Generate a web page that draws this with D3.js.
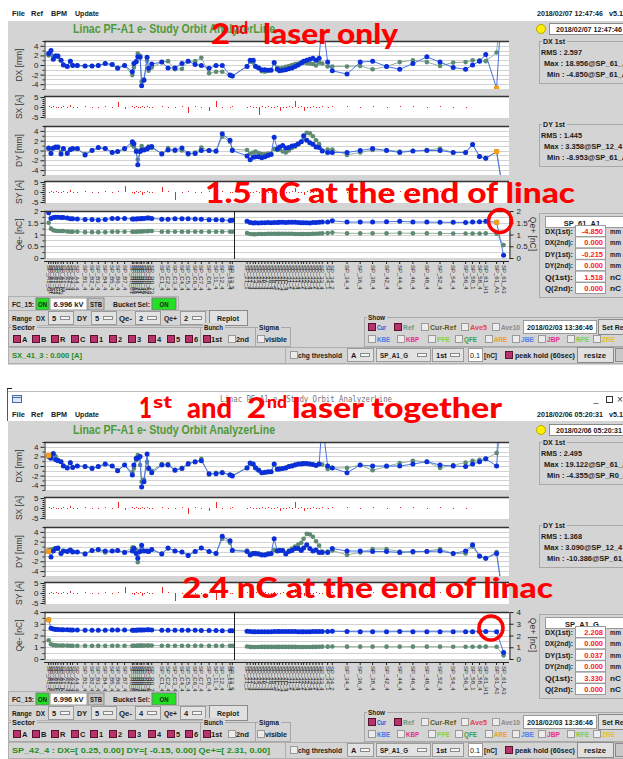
<!DOCTYPE html>
<html><head><meta charset="utf-8">
<script src="https://cdn.jsdelivr.net/npm/d3@7"></script>
<style>body{margin:0;background:#fff;}svg{display:block;}</style>
</head><body>
<script>
// ---------------- DATA ----------------
// BPM longitudinal positions (m) and names
const bpmS = [6,9,12,15,18,22,25,30,34,37,43,53,62,70,79,88,95,104,114,116,119,121,124,126,129,133,135,139,152,160,169,178,186,195,203,213,222,230,240,243,
262,266,270,273,277,281,285,289,293,297,301,304,308,312,316,320,324,328,332,335,339,343,347,351,355,359,366,372,391,408,424,442,459,476,494,511,528,544,553,562,570,584,593];
const bpmNames = ["SP_A1_G","SP_A1_S1","SP_A1_S2","SP_A1_C1","SP_A1_C2","SP_A1_C3","SP_A1_M","SP_A1_4","SP_A2_4","SP_A3_4","SP_A4_4",
"SP_B1_4","SP_B2_4","SP_B3_4","SP_B4_4","SP_B5_4","SP_B6_4","SP_B7_4",
"SP_R0_01","SP_R0_03","SP_R0_11","SP_R0_21","SP_R0_31","SP_R0_42","SP_R0_46","SP_R0_52","SP_R0_63","SP_R0_73",
"SP_C1_4","SP_C2_4","SP_C3_4","SP_C4_4","SP_C5_4","SP_C6_4","SP_C7_4","SP_C8_4","SP_11_4","SP_12_4","SP_13_4","SP_13_5",
"SP_21_1","SP_21_4","SP_22_4","SP_23_4","SP_24_4","SP_25_4","SP_26_4","SP_27_4","SP_28_4","SP_28_5","SP_2C_1","SP_2C_2","SP_2C_3","SP_2C_4",
"SP_31_1","SP_31_2","SP_31_3","SP_31_4","SP_32_1","SP_32_2","SP_32_3","SP_32_4","SP_33_1","SP_33_2","SP_33_3","SP_33_4","SP_34_1","SP_34_2",
"SP_34_4","SP_36_4","SP_38_4","SP_42_4","SP_44_4","SP_46_4","SP_48_4","SP_52_4","SP_54_4","SP_56_4","SP_58_1","SP_58_4","SP_61_H1","SP_61_A1","SP_61_A3"];
const sectorDividerS = 245;

// ---- top panel (2nd laser only) ----
const dxCurTop = [2.4,3.0,1.2,1.9,1.9,1.0,0.0,-0.3,0.8,-0.1, -0.1,-0.2,-0.2,-0.1,0.3,0.1,-0.7,-0.1,-1.4,0.3, 0.7,1.7,1.6,-4.3,-3.2,1.6,-0.7,0.2,0.6,-0.6, -0.6,0.3,0.8,0.1,-0.1,-0.7,-0.1,-0.1,-2.1,-2.3,
 -0.3,1.0,1.0,-0.3,-0.6,-1.0,-1.0,-1.1,-1.1,0.5, -0.9,-1.2,-1.1,-1.0,-0.8,-0.6,-0.3,0.0,0.4,0.8, 1.0,1.2,1.4,1.0,1.4,9.5,0.6,-1.2,-1.9,0.6, 0.8,-0.3,-0.9,0.3,1.7,0.6,-0.5,-0.9,0.0,0.8, 2.2,-4.85,18.956];
const dxRefTop = [2.0,2.2,1.8,1.9,1.7,1.0,0.1,-0.2,0.8,0.0, -0.1,-0.2,-0.2,-0.1,0.3,0.1,-0.6,-0.1,-2.1,-0.5, 0.8,2.4,1.9,-3.5,-3.0,0.9,-1.2,-0.5,0.6,0.8, -0.9,-0.8,0.8,0.8,1.5,-1.7,-1.4,-1.4,-2.2,-2.3,
 -0.2,0.7,0.5,-0.2,-0.6,-1.3,-1.4,-1.2,-1.0,0.3, -0.6,-0.7,-0.6,-0.4,-0.2,0.0,0.2,0.3,0.5,0.5, 0.4,0.3,0.2,-0.1,0.5,0.3,-0.3,-0.3,-0.3,-0.2, -0.9,-0.3,0.6,1.0,0.6,-0.2,0.5,0.6,1.0,1.0, 0.8,2.6,18.9];
const dyCurTop = [0.5,-0.6,0.5,0.7,0.7,-0.7,0.4,-0.6,0.2,0.4, 0.4,-0.9,0.0,0.6,0.4,-0.4,-0.2,0.4,1.8,1.4, -0.2,-2.9,-0.2,0.1,0.1,0.3,0.6,0.8,-0.7,0.1, 0.1,0.5,-0.6,-0.6,0.0,0.0,-0.1,3.4,2.1,0.0,
 -1.1,-1.9,-1.4,-1.3,-1.3,-1.5,-1.3,-1.0,-0.8,2.7, 0.3,0.7,1.0,0.5,0.6,0.9,1.0,1.4,1.8,3.0, 2.1,1.6,1.3,0.7,0.6,-0.1,-0.4,-0.4,-0.4,0.0, 0.4,0.0,-0.4,-0.1,0.0,0.0,-0.4,-0.4,1.2,-1.2, -1.6,-0.215,-8.953];
const dyRefTop = [0.3,0.0,0.4,0.6,0.5,-0.3,0.3,-0.4,0.1,0.3, 0.3,-0.7,0.1,0.5,0.4,-0.3,-0.2,0.3,1.1,0.8, 0.1,-1.9,0.0,0.9,0.2,0.4,0.8,0.5,-0.6,0.5, -0.1,0.0,-0.8,-0.4,0.6,0.0,-0.2,2.8,1.8,0.2,
 0.1,-0.6,-0.4,-0.2,-0.5,-0.7,-0.8,-0.6,-0.6,0.3, 0.1,0.2,-0.2,-0.4,0.0,0.5,0.8,1.2,1.8,2.4, 3.6,3.5,2.9,2.1,1.3,0.0,0.2,0.2,-0.9,-0.4, 0.1,0.1,-0.2,-0.1,0.1,0.4,-0.4,-0.4,1.2,-1.2, -1.6,-0.3,-9.0];
const qCurTop = [1.93,1.68,1.72,1.73,1.73,1.72,1.72,1.70,1.67,1.67, 1.66,1.64,1.64,1.62,1.64,1.68,1.68,1.68,1.66,1.66, 1.66,1.67,1.67,1.68,1.68,1.70,1.70,1.68,1.65,1.65, 1.67,1.67,1.67,1.66,1.65,1.63,1.63,1.62,1.60,1.61,
 1.56,1.51,1.49,1.50,1.49,1.50,1.50,1.51,1.50,1.51, 1.51,1.52,1.52,1.51,1.52,1.52,1.52,1.51,1.50,1.50, 1.50,1.49,1.51,1.51,1.52,1.53,1.53,1.58,1.53,1.53, 1.53,1.54,1.56,1.53,1.53,1.52,1.52,1.51,1.53,1.54, 1.56,1.518,0.12];
const qRefTop = [1.50,1.25,1.18,1.16,1.15,1.15,1.15,1.13,1.12,1.12, 1.12,1.10,1.10,1.10,1.10,1.12,1.12,1.12,1.12,1.12, 1.12,1.13,1.13,1.13,1.14,1.14,1.15,1.15,1.12,1.12, 1.12,1.12,1.12,1.12,1.12,1.12,1.12,1.12,1.12,1.12,
 1.06,1.02,1.01,1.01,1.02,1.02,1.02,1.03,1.03,1.03, 1.03,1.03,1.03,1.03,1.03,1.03,1.02,1.02,1.02,1.02, 1.02,1.02,1.03,1.03,1.04,1.05,1.06,1.08,1.05,1.05, 1.05,1.05,1.06,1.05,1.05,1.05,1.04,1.04,1.04,1.04, 1.05,1.03,0.55];
const sxTop = [0.3,-0.2,0.3,0.2,-0.3,0.2,0.3,-0.3,1.0,0.2, -0.3,0.3,-0.4,0.2,0.3,-0.3,2.5,-1.2,0.3,-0.2, 0.3,-0.3,0.2,0.3,-0.2,0.3,0.2,-0.3,0.3,-0.3, 0.2,0.4,-3.0,0.3,-0.2,-1.8,2.8,-0.3,0.2,0.3,
 -0.3,0.3,0.2,-0.3,-4.0,0.3,-0.2,0.3,0.2,-0.3, 0.3,-1.8,0.2,-0.3,0.3,0.2,2.8,-0.3,0.3,-2.2, 0.2,-0.3,0.3,0.2,-0.3,0.3,-0.2,0.3,0.3,-0.3, 0.3,-0.2,0.3,0.3,-0.2,0.3,0.2,-0.3,0,0, 0,0,0];
const syTop = [0.2,0.3,-0.2,0.3,0.2,-0.3,0.3,0.2,1.0,-0.3, 0.2,0.3,-0.3,0.2,0.3,-0.2,0.3,3.0,0.2,-1.0, 0.3,-0.2,0.3,-1.5,0.2,0.3,-0.3,0.2,2.5,0.3, -4.0,0.2,0.3,-0.3,0.2,0.3,-0.2,0.3,0.2,-0.3,
 0.3,0.2,-0.3,0.3,0.2,-0.3,0.3,0.2,-0.2,0.3, 0.2,-0.3,0.3,0.2,-0.3,0.3,2.0,0.2,-0.3,-1.5, 0.3,0.2,-0.3,0.3,0.2,-0.2,0.3,0.3,-0.3,0.2, 0.3,-0.2,0.3,0.2,-0.3,0.3,0.2,0,0,0, 0,0,0];

// ---- bottom panel (1st and 2nd laser together) ----
const dxCurBot = [2.208,1.6,2.6,1.3,1.1,0.9,0.0,-0.4,0.7,-0.3, 0.0,-0.1,-0.5,-0.1,0.4,0.0,-1.0,0.2,-1.9,0.2, 1.6,1.6,2.0,-4.355,-3.3,2.5,-0.5,-1.4,0.2,0.2, -0.9,-0.5,0.4,0.9,1.1,-1.6,-1.6,-1.4,-1.9,-2.1,
 -0.4,0.6,0.4,-0.4,-0.9,-1.4,-1.3,-1.2,-1.2,0.4, -0.7,-0.6,-0.5,-0.4,-0.1,0.0,0.2,0.4,0.4,0.5, 0.5,0.4,0.3,0.1,0.4,9.0,0.0,-0.4,-1.4,0.2, 0.0,0.0,0.0,0.4,0.9,0.2,0.0,-0.1,0.4,0.9, 1.5,0.0,19.122];
const dxRefBot = [1.8,1.9,2.3,2.0,1.3,0.9,0.1,-0.3,0.7,-0.2, 0.0,-0.1,-0.4,-0.1,0.4,0.0,-0.9,0.2,-1.3,-0.5, 1.2,2.3,0.2,-3.3,-2.8,0.9,-0.3,-1.0,0.4,0.4, -0.8,-0.4,0.6,0.8,1.5,-1.8,-1.4,-1.3,-1.8,-2.0,
 -0.3,0.5,0.3,-0.3,-0.8,-1.4,-1.4,-1.3,-1.2,0.3, -0.6,-0.6,-0.5,-0.3,-0.1,0.1,0.3,0.4,0.5,0.5, 0.5,0.4,0.3,0.2,0.4,0.3,-0.6,-0.4,-0.4,0.2, -0.9,-0.1,0.6,1.1,0.9,-0.4,0.2,0.7,1.1,1.3, 1.5,2.7,19.0];
const dyCurBot = [0.037,-1.1,0.1,0.6,0.7,-0.4,0.1,0.0,0.3,-0.1, -0.1,-0.5,0.2,0.4,0.1,0.1,0.2,-0.2,0.1,0.6, -0.4,-1.4,0.0,1.3,0.1,0.1,0.0,0.4,-0.5,0.7, 0.1,-0.1,-0.8,0.0,0.7,0.0,-0.4,3.09,2.2,0.2,
 0.0,-0.7,-0.4,-0.4,-0.5,-0.7,-0.7,-0.5,-0.4,2.6, 0.1,0.2,0.2,-0.5,0.0,0.2,0.6,0.6,0.2,0.7, 1.4,0.6,0.1,0.3,-0.2,-0.2,-0.2,0.6,0.1,0.1, 0.0,0.0,-0.2,0.0,0.0,0.1,-0.4,0.1,1.4,-0.9, -1.4,-0.4,-10.386];
const dyRefBot = [0.3,0.4,0.5,0.6,0.5,-0.3,0.1,0.1,0.2,0.0, -0.1,-0.4,0.2,0.3,-0.2,0.1,0.2,-0.1,0.8,0.8, 0.3,-2.2,0.0,0.6,0.1,0.1,0.0,0.4,-0.4,0.6, 0.1,-0.1,-0.8,0.0,0.7,0.0,-0.3,2.6,1.8,0.3,
 0.2,-0.4,-0.3,-0.3,-0.4,-0.6,-0.6,-0.4,-0.4,0.3, 0.2,0.3,0.2,-0.3,0.2,0.6,1.0,1.4,1.8,2.6, 3.6,3.5,3.0,2.1,1.2,0.0,0.0,0.2,-0.7,-0.2, 0.5,0.5,0.0,-0.2,0.1,0.5,-0.4,-0.4,1.0,-1.0, -1.4,-0.1,-10.0];
const qCurBot = [3.33,2.62,2.55,2.52,2.52,2.50,2.50,2.48,2.47,2.47, 2.46,2.45,2.45,2.44,2.45,2.46,2.46,2.46,2.45,2.45, 2.45,2.46,2.46,2.47,2.47,2.48,2.48,2.47,2.44,2.44, 2.44,2.45,2.45,2.44,2.43,2.42,2.42,2.41,2.40,2.40,
 2.36,2.33,2.32,2.32,2.31,2.32,2.32,2.32,2.32,2.33, 2.33,2.33,2.33,2.33,2.33,2.33,2.33,2.32,2.32,2.32, 2.32,2.32,2.33,2.33,2.33,2.34,2.34,2.36,2.33,2.32, 2.32,2.31,2.33,2.32,2.32,2.32,2.31,2.31,2.32,2.33, 2.34,2.32,0.55];
const qRefBot = [1.60,1.25,1.18,1.16,1.15,1.15,1.15,1.14,1.13,1.13, 1.12,1.12,1.12,1.12,1.12,1.13,1.13,1.13,1.13,1.13, 1.13,1.14,1.14,1.14,1.14,1.15,1.15,1.15,1.13,1.13, 1.13,1.13,1.13,1.13,1.13,1.12,1.12,1.12,1.12,1.12,
 1.06,1.03,1.02,1.02,1.02,1.03,1.03,1.03,1.03,1.03, 1.03,1.03,1.03,1.03,1.03,1.03,1.03,1.02,1.02,1.02, 1.02,1.02,1.03,1.03,1.04,1.05,1.05,1.07,1.05,1.05, 1.05,1.05,1.05,1.05,1.05,1.05,1.04,1.04,1.04,1.04, 1.05,1.04,0.30];
const sxBot = [0.3,-0.2,0.3,0.2,-0.3,0.2,0.3,-0.3,1.0,0.2, -0.3,0.3,-0.4,0.2,0.3,-0.3,3.0,-1.0,0.3,-0.2, 0.3,-0.3,0.2,0.3,-0.2,0.3,0.2,-0.3,0.3,-0.3, 0.2,0.4,-3.0,0.3,-0.2,-1.5,3.0,-0.3,0.2,0.3,
 -0.3,0.3,0.2,-0.3,-0.4,0.3,-0.2,0.3,0.2,-0.3, 0.3,-1.5,0.2,-0.3,0.3,0.2,3.0,-0.3,0.3,-1.6, 0.2,-0.3,0.3,0.2,-0.3,0.3,-0.2,0.3,0.3,-0.3, 0.3,-0.2,0.3,0.3,-0.2,0.3,0.2,-0.3,0,0, 0,0,0];
const syBot = [0.2,0.3,-0.2,0.3,0.2,-0.3,0.3,0.2,1.0,-0.3, 0.2,0.3,-0.3,0.2,0.3,-0.2,0.3,3.0,0.2,-1.0, 0.3,-0.2,0.3,-1.5,0.2,0.3,-0.3,0.2,3.0,0.3, -4.0,0.2,0.3,-0.3,0.2,0.3,-3.5,0.3,0.2,-0.3,
 0.3,0.2,-0.3,0.3,0.2,-0.3,0.3,0.2,-0.2,0.3, 0.2,-0.3,0.3,0.2,-0.3,0.3,2.0,0.2,-0.3,-1.5, 0.3,0.2,-0.3,0.3,0.2,-0.2,0.3,0.3,-0.3,0.2, 0.3,-0.2,0.3,0.2,-0.3,0.3,0.2,0,0,0, 0,0,0];

// tick labels
const dTicks = [-4,-2,0,2,4];
const sTicks = [-5,0,5];
const qTicksTop = [0,0.5,1,1.5,2];
const qTicksBot = [0,1,2,3,4];

// texts
const topStatsDX = ["RMS : 2.597","Max : 18.956@SP_61_A3","Min : -4.850@SP_61_A1"];
const topStatsDY = ["RMS : 1.445","Max : 3.358@SP_12_4","Min : -8.953@SP_61_A3"];
const botStatsDX = ["RMS : 2.495","Max : 19.122@SP_61_A3","Min : -4.355@SP_R0_42"];
const botStatsDY = ["RMS : 1.368","Max : 3.090@SP_12_4","Min : -10.386@SP_61_A3"];
const selLabels = ["DX(1st):","DX(2nd):","DY(1st):","DY(2nd):","Q(1st):","Q(2nd):"];
const selUnits = ["mm","mm","mm","mm","nC","nC"];
const selTop = ["-4.850","0.000","-0.215","0.000","1.518","0.000"];
const selBot = ["2.208","0.000","0.037","0.000","3.330","0.000"];
const sectors = ["A","B","R","C","1","2","3","4","5","6"];
const showRow1 = [["Cur","#2a52e0",true],["Ref","#6a9a82",true],["Cur-Ref","#5a5a20",false],["Ave5","#e04848",false],["Ave10","#8a8a8a",false]];
const showRow2 = [["KBE","#4a78e8"],["KBP","#e0308a"],["PFE","#8cd040"],["QFE","#3aa04a"],["ARE","#f0a020"],["JBE","#5a7af0"],["JBP","#e03088"],["RFE","#7ad040"],["ZRE","#e8c020"]];

// ---------------- DRAW ----------------
const W=623,H=759, BG="#d4d4d4";
const FONT='"Liberation Sans", Arial, sans-serif';
const svg=d3.select("body").append("svg").attr("width",W).attr("height",H).attr("font-family",FONT);
const xs=d3.scaleLinear().domain([0,600]).range([44,509]);
const defs=svg.append("defs");

function T(g,x,y,s,o={}){
  const t=g.append("text").attr("x",x).attr("y",y).text(s)
    .attr("font-size",o.size||7.5).attr("font-weight",o.weight||"bold")
    .attr("fill",o.fill||"#1a1a1a").attr("text-anchor",o.anchor||"start");
  if(o.len) t.attr("textLength",o.len).attr("lengthAdjust","spacingAndGlyphs");
  if(o.family) t.attr("font-family",o.family);
  if(o.rot) t.attr("transform",`rotate(${o.rot},${x},${y})`);
  return t;
}
function R(g,x,y,w,h,fill,stroke,sw){
  return g.append("rect").attr("x",x).attr("y",y).attr("width",w).attr("height",h)
    .attr("fill",fill||"none").attr("stroke",stroke||"none").attr("stroke-width",sw||1);
}
function styleAxis(a){
  a.select(".domain").attr("stroke","#222");
  a.selectAll(".tick line").attr("stroke","#222");
  a.selectAll("text").attr("font-size",8).attr("fill","#222").attr("font-family",FONT);
}
let clipN=0;
function frame(g,y0,y1,label){
  R(g,44,y0,465,y1-y0,"#fff");
  const id="clip"+(clipN++);
  defs.append("clipPath").attr("id",id).append("rect").attr("x",44).attr("y",y0).attr("width",465).attr("height",y1-y0);
  T(g,22,(y0+y1)/2,label,{size:8.5,weight:"normal",fill:"#333",anchor:"middle",rot:-90});
  return id;
}
function topLine(g,y0){ g.append("line").attr("x1",44).attr("x2",509).attr("y1",y0+0.5).attr("y2",y0+0.5).attr("stroke","#333").attr("stroke-width",1.6); }
function leftAxis(g,y,ticks,minor){
  const a=g.append("g").attr("transform","translate(44.5,0)").call(d3.axisLeft(y).tickValues(ticks).tickSize(4).tickSizeOuter(0).tickPadding(2).tickFormat(d=>String(d)));
  styleAxis(a);
  const m=g.append("g").attr("transform","translate(44.5,0)").call(d3.axisLeft(y).tickValues(minor).tickSize(2).tickSizeOuter(0).tickFormat(""));
  m.select(".domain").remove(); m.selectAll("line").attr("stroke","#222");
}
function grid(g,y,vals){
  g.append("g").selectAll("line").data(vals).join("line")
    .attr("x1",45).attr("x2",509).attr("y1",d=>Math.round(y(d))+0.5).attr("y2",d=>Math.round(y(d))+0.5)
    .attr("stroke","#d2d2d2").attr("stroke-width",1);
}
function series(g,y,vals,segs,lineColor,dotColor,r,clip){
  const gg=g.append("g").attr("clip-path",`url(#${clip})`);
  const ln=d3.line().x(i=>xs(bpmS[i])).y(i=>y(vals[i]));
  segs.forEach(([a,b])=>{
    gg.append("path").datum(d3.range(a,b+1)).attr("d",ln).attr("fill","none").attr("stroke",lineColor).attr("stroke-width",1);
  });
  gg.selectAll("circle").data(d3.range(vals.length)).join("circle")
    .attr("cx",i=>xs(bpmS[i])).attr("cy",i=>y(vals[i])).attr("r",r).attr("fill",dotColor);
  return gg;
}
function hlPoint(gg,y,vals,i){
  gg.append("rect").attr("x",xs(bpmS[i])-2.5).attr("y",y(vals[i])-2.5).attr("width",5).attr("height",5).attr("fill","#f6a01a");
}
function linePlot(g,y0,y1,dom,cur,ref,label,ticks,minor,gridVals,segs,hl){
  const id=frame(g,y0,y1,label);
  const y=d3.scaleLinear().domain(dom).range([y1,y0]);
  grid(g,y,gridVals);
  series(g,y,ref,segs,"#93b09f","#5d8a72",2.3,id);
  const gg=series(g,y,cur,segs,"#4672e6","#0a2fd8",2.5,id);
  hlPoint(gg,y,cur,hl);
  topLine(g,y0);
  leftAxis(g,y,ticks,minor);
  return y;
}
function barPlot(g,y0,y1,vals,label){
  const id=frame(g,y0,y1,label);
  const y=d3.scaleLinear().domain([-5.5,5.5]).range([y1,y0]);
  const gg=g.append("g").attr("clip-path",`url(#${id})`);
  gg.selectAll("rect").data(d3.range(vals.length).filter(i=>vals[i]!==0)).join("rect")
    .attr("x",i=>Math.round(xs(bpmS[i])))
    .attr("width",1)
    .attr("y",i=>Math.round(Math.min(y(0),y(vals[i]))))
    .attr("height",i=>Math.max(1,Math.round(Math.abs(y(vals[i])-y(0)))))
    .attr("fill","#e82a2a");
  topLine(g,y0);
  leftAxis(g,y,sTicks,[-4,-3,-2,-1,1,2,3,4]);
}

// control helpers
function cb(g,x,c,checked){ R(g,x+0.5,c-3.5,7,7,checked?"#b8336a":"#ececec",checked?"#5a1030":"#9a9a9a"); }
function dd(g,x,c,w,label,len){ R(g,x+0.5,c-6.5,w,13,"#e2e2e2","#9a9a9a"); T(g,x+4,c+3,label,{len:len}); R(g,x+w-12.5,c-1.5,9,3,"#f6f6f6","#8a8a8a"); }
function btn(g,x,c,w,label,len){ R(g,x+0.5,c-7.5,w,15,"#e0e0e0","#8a8a8a"); T(g,x+w/2,c+3,label,{anchor:"middle",len:len}); }
function grp(g,x,y,w,h,label,len){
  R(g,x+0.5,y+0.5,w,h,"none","#a8a8a8");
  if(label){ R(g,x+3,y-4,len+3,8,BG); T(g,x+4,y+3,label,{len:len}); }
}

function drawPanel(P){
  R(svg,8,P.bgTop,615,P.bgH,BG);
  const g=svg.append("g").attr("transform",`translate(0,${P.dy})`);
  const c=svg.append("g").attr("transform",`translate(0,${P.cy})`);
  // menu + timestamp
  [["File",12,13],["Ref",31,12],["BPM",51,16],["Update",75,24]].forEach(([s,x,l])=>T(g,x,16,s,{size:8,len:l}));
  T(g,537,16,P.time,{size:8,len:66}); T(g,609,16,"v5.1",{size:8,len:14});
  // title
  T(g,73,33,"Linac PF-A1 e- Study Orbit AnalyzerLine",{size:12,fill:"#4e9a3a",len:202});
  // plots
  const full=[[0,bpmS.length-1]];
  linePlot(g,41,89,[-5,5],P.dxCur,P.dxRef,"DX [mm]",dTicks,[-5,-3,-1,1,3,5],[-4,-3,-2,-1,0,1,2,3,4],full,P.hl);
  barPlot(g,96,118,P.sx,"SX [A]");
  linePlot(g,126,175,[-5,5],P.dyCur,P.dyRef,"DY [mm]",dTicks,[-5,-3,-1,1,3,5],[-4,-3,-2,-1,0,1,2,3,4],full,P.hl);
  barPlot(g,181,203,P.sy,"SY [A]");
  const qMax=P.qTicks[P.qTicks.length-1];
  const qStep=qMax/8;
  const qy=linePlot(g,211,258,[0,qMax],P.qCur,P.qRef,"Qe- [nC]",P.qTicks,d3.range(1,8,2).map(k=>k*qStep),d3.range(1,8).map(k=>k*qStep),[[0,39],[40,bpmS.length-1]],P.hl);
  // right axis
  const ra=g.append("g").attr("transform","translate(509.5,0)").call(d3.axisRight(qy).tickValues(P.qTicks).tickSize(4).tickSizeOuter(0).tickPadding(3).tickFormat(d=>String(d)));
  styleAxis(ra);
  T(g,530,234,"Qe+ [nC]",{size:8.5,weight:"normal",fill:"#333",anchor:"middle",rot:90});
  g.append("line").attr("x1",Math.round(xs(sectorDividerS))+0.5).attr("x2",Math.round(xs(sectorDividerS))+0.5).attr("y1",211).attr("y2",259).attr("stroke","#222");
  // x label axis
  g.append("line").attr("x1",44).attr("x2",509).attr("y1",261.5).attr("y2",261.5).attr("stroke","#222");
  g.append("g").selectAll("line").data(bpmS).join("line").attr("x1",d=>xs(d)).attr("x2",d=>xs(d)).attr("y1",261).attr("y2",264).attr("stroke","#222");
  g.append("g").selectAll("text").data(bpmNames).join("text")
    .attr("transform",(d,i)=>`translate(${xs(bpmS[i])-2},265) rotate(90)`)
    .attr("font-size",6).attr("fill","#222").attr("font-family",FONT).text(d=>d);
  // right info
  g.append("circle").attr("cx",541).attr("cy",29).attr("r",4.5).attr("fill","#ffee00").attr("stroke","#b8a800");
  R(g,549.5,23.5,80,11,"#fff","#8a8a8a");
  T(g,556,32,P.time,{len:66});
  [[41,P.dxStats,"DX 1st"],[124,P.dyStats,"DY 1st"]].forEach(([y0,st,lab])=>{
    grp(g,539,y0,90,42,lab,22);
    T(g,541,y0+13.5,st[0],{len:41}); T(g,544,y0+25,st[1]); T(g,547,y0+35.5,st[2]);
  });
  grp(g,539,213,90,84,null);
  R(g,545.5,216.5,80,11,"#fff","#9a9a9a");
  T(g,582,225.5,P.selName,{anchor:"middle"});
  selLabels.forEach((lab,i)=>{
    const cy=231+i*11.4;
    T(g,545,cy+3,lab,{len:28});
    R(g,575.5,cy-5.5,30,11,"#fff","#9a9a9a");
    T(g,603,cy+3,P.sel[i],{anchor:"end",fill:"#ff2020"});
    T(g,610,cy+3,selUnits[i],{len:11});
  });
  // ---- controls ----
  R(c,8.5,296.5,170,15,BG,"#b0b0b0");
  T(c,12,307,"FC_15:",{len:22});
  R(c,36,298,13,12,"#22e022","#7a7a7a"); T(c,42.5,307,"ON",{anchor:"middle",len:9});
  R(c,50,298,37,12,"#fff","#9a9a9a"); T(c,68.5,307,"6.996 kV",{anchor:"middle",len:30});
  R(c,88,298,16,12,"#c4c4c4","#8a8a8a"); T(c,96,307,"STB",{anchor:"middle",len:12});
  T(c,113,307,"Bucket Sel:",{len:37});
  R(c,152,298,24,12,"#22e022","#7a7a7a"); T(c,164,307,"ON",{anchor:"middle",len:9});
  R(c,8.5,310.5,239,15,BG,"#b0b0b0");
  T(c,12,321,"Range",{len:20}); T(c,36,321,"DX",{len:9}); dd(c,48,318,25,"5");
  T(c,77,321,"DY",{len:10}); dd(c,91,318,25,"5");
  T(c,119,321,"Qe-",{len:13}); dd(c,135,318,25,P.qRange);
  T(c,164,321,"Qe+",{len:13}); dd(c,180,318,25,P.qRange);
  btn(c,209,318,38,"Replot",22);
  grp(c,8,327,192,19,"Sector",23);
  const sx=[13,32,51,71,90,109,128,148,167,185];
  sectors.forEach((s,i)=>{ cb(c,sx[i],339,true); T(c,sx[i]+9,342,s); });
  grp(c,200,327,55,19,"Bunch",19);
  cb(c,203,339,true); T(c,211,342,"1st",{len:11}); cb(c,228,339,false); T(c,236,342,"2nd",{len:13});
  grp(c,255,327,35,19,"Sigma",20);
  cb(c,257,339,false); T(c,265,342,"visible",{len:22});
  R(c,8.5,347.5,277,16,BG,"#b0b0b0");
  T(c,12,358,P.status,{fill:"#1e8c1e",len:P.statusLen});
  grp(c,364,317,262,29,"Show",17);
  const r1x=[368,394,421,461,492];
  const r1l=[9,11,26,17,19];
  showRow1.forEach(([s,col,ch],i)=>{ cb(c,r1x[i],327,ch); T(c,r1x[i]+9,330,s,{fill:col,len:r1l[i]}); });
  R(c,523.5,320.5,73,13,"#fff","#9a9a9a"); T(c,527,330,"2018/02/03 13:36:46",{len:66});
  R(c,598.5,319.5,30,15,"#e0e0e0","#8a8a8a"); T(c,602,330,"Set Ref",{len:24});
  const r2x=[368,397,428,455,485,512,538,567,593];
  showRow2.forEach(([s,col],i)=>{ cb(c,r2x[i],339,false); T(c,r2x[i]+9,342,s,{fill:col,len:13}); });
  R(c,285.5,347.5,340,16,BG,"#b0b0b0");
  cb(c,290,355,false); T(c,298,358,"chg threshold",{len:44});
  dd(c,347,355,26,"A"); dd(c,376,355,54,"SP_A1_G",28); dd(c,432,355,31,"1st");
  R(c,468.5,348.5,14,13,"#fff","#9a9a9a"); T(c,470,358,"0.1",{weight:"normal",len:10});
  T(c,484,358,"[nC]",{len:13});
  cb(c,505,355,true); T(c,515,358,"peak hold (60sec)",{len:60});
  btn(c,577,355,36,"resize",22);
  R(c,615.5,348.5,12,13,"#c8c8c8","#8a8a8a");
}

// bottom window chrome
svg.append("line").attr("x1",7).attr("x2",623).attr("y1",391.5).attr("y2",391.5).attr("stroke","#bdbdbd");
svg.append("line").attr("x1",7.5).attr("x2",7.5).attr("y1",388).attr("y2",421).attr("stroke","#555");
svg.append("line").attr("x1",7).attr("x2",12).attr("y1",388.5).attr("y2",388.5).attr("stroke","#222");
R(svg,12.5,395.5,9,7,"#dde6f6","#4a6aa8");
svg.append("line").attr("x1",13).attr("x2",21).attr("y1",397.5).attr("y2",397.5).attr("stroke","#4a6aa8");
T(svg,220,402,"Linac PF-A1 e- Study Orbit AnalyzerLine",{weight:"normal",fill:"#777",family:"DejaVu Sans Mono",size:8,len:172});
T(svg,596,402,"_",{weight:"normal",fill:"#333",size:9,anchor:"middle"});
R(svg,606.5,396.5,6,6,"none","#333");
T(svg,620,403,"×",{weight:"normal",fill:"#333",size:10,anchor:"middle"});

drawPanel({dy:0,cy:0,bgTop:21,bgH:344,time:"2018/02/07 12:47:46",
  dxCur:dxCurTop,dxRef:dxRefTop,dyCur:dyCurTop,dyRef:dyRefTop,qCur:qCurTop,qRef:qRefTop,sx:sxTop,sy:syTop,
  qTicks:qTicksTop,qRange:"2",hl:81,dxStats:topStatsDX,dyStats:topStatsDY,selName:"SP_61_A1",sel:selTop,
  status:"SX_41_3  :  0.000 [A]",statusLen:70});
drawPanel({dy:401,cy:395,bgTop:421,bgH:338,time:"2018/02/06 05:20:31",
  dxCur:dxCurBot,dxRef:dxRefBot,dyCur:dyCurBot,dyRef:dyRefBot,qCur:qCurBot,qRef:qRefBot,sx:sxBot,sy:syBot,
  qTicks:qTicksBot,qRange:"4",hl:0,dxStats:botStatsDX,dyStats:botStatsDY,selName:"SP_A1_G",sel:selBot,
  status:"SP_42_4  :  DX=[ 0.25, 0.00]  DY=[ -0.15, 0.00]  Qe+=[ 2.31, 0.00]",statusLen:258});

// ---- red annotations ----
const A={fill:"#ff0000",family:"Lato",weight:900,size:28};
const ann=svg.append("g");
T(ann,211,44,"2",{...A,len:19});
T(ann,231,34,"nd",{...A,size:17,len:17});
T(ann,263,44,"laser only",{...A,len:135});
T(ann,205,203,"1.5 nC at the end of linac",{...A,len:370});
T(ann,139,418,"1",{...A,len:13});
T(ann,153,408,"st",{...A,size:17,len:19});
T(ann,187,418,"and",{...A,len:45});
T(ann,247,418,"2",{...A,len:19});
T(ann,267,408,"nd",{...A,size:17,len:20});
T(ann,292,418,"laser together",{...A,len:210});
T(ann,182,598,"2.4 nC at the end of linac",{...A,len:371});
ann.append("circle").attr("cx",500).attr("cy",221).attr("r",11.5).attr("fill","none").attr("stroke","#ff0000").attr("stroke-width",3.5);
ann.append("circle").attr("cx",491).attr("cy",628).attr("r",12).attr("fill","none").attr("stroke","#ff0000").attr("stroke-width",3.5);
</script>
</body></html>
